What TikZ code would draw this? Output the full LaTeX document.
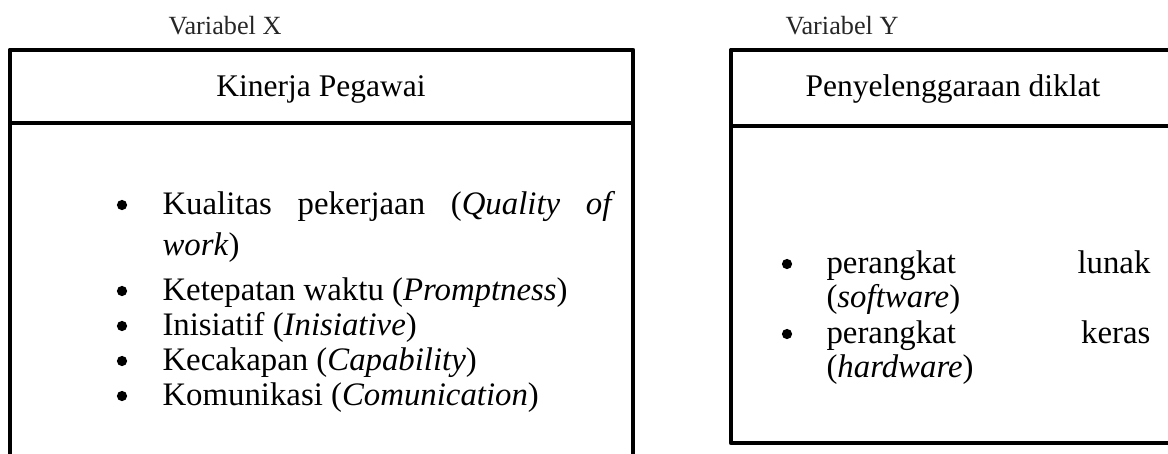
\documentclass[tikz,border=0pt]{standalone}
\usepackage{fontspec}
\setmainfont{Liberation Serif}

\tikzset{
  frame/.style={line width=1.85pt, line join=round},
  varlabel/.style={anchor=base, inner sep=0pt, text=black!85, font=\fontsize{10}{12}\selectfont},
  boxtitle/.style={anchor=base, inner sep=0pt, font=\fontsize{12}{14}\selectfont},
  dot/.style={circle, fill, inner sep=0pt, minimum size=3.9pt},
  itemline/.style={anchor=base west, inner sep=0pt, font=\fontsize{12.5}{15}\selectfont}
}

\begin{document}
\begin{tikzpicture}[x=0.381pt, y=-0.381pt]
      \useasboundingbox (0,0) rectangle (1168,453);

      \node [varlabel] (varx) at (225,34) {Variabel X};
      \node [varlabel] (vary) at (842,34) {Variabel Y};

      \draw [frame] (10,470) -- (10,50) -- (633,50) -- (633,470);
      \draw [frame] (10,123) -- (633,123);
      \node [boxtitle] (kinerja) at (321,96) {Kinerja Pegawai};

      \node [dot] (dx1) at (122,205) {};
      \node [itemline] (kx1) at (162,214) {\hbox to 172.5pt{Kualitas\hfill pekerjaan\hfill (\textit{Quality}\hfill \textit{of}}};
      \node [itemline] (kx1b) at (162,255) {\textit{work})};
      \node [dot] (dx2) at (122,291) {};
      \node [itemline] (kx2) at (162,300) {Ketepatan waktu (\textit{Promptness})};
      \node [dot] (dx3) at (122,326) {};
      \node [itemline] (kx3) at (162,335) {Inisiatif (\textit{Inisiative})};
      \node [dot] (dx4) at (122,361) {};
      \node [itemline] (kx4) at (162,370) {Kecakapan (\textit{Capability})};
      \node [dot] (dx5) at (122,396) {};
      \node [itemline] (kx5) at (162,405) {Komunikasi (\textit{Comunication})};

      \draw [frame] (1190,50) -- (731,50) -- (731,443) -- (1190,443);
      \draw [frame] (731,126) -- (1190,126);
      \node [boxtitle] (diklat) at (953,96) {Penyelenggaraan diklat};

      \node [dot] (dy1) at (787,264) {};
      \node [itemline] (ky1) at (826,273) {\hbox to 123.4pt{perangkat\hfill lunak}};
      \node [itemline] (ky1b) at (826,307) {(\textit{software})};
      \node [dot] (dy2) at (787,334) {};
      \node [itemline] (ky2) at (826,343) {\hbox to 123.4pt{perangkat\hfill keras}};
      \node [itemline] (ky2b) at (826,377) {(\textit{hardware})};
    \end{tikzpicture}
\end{document}
